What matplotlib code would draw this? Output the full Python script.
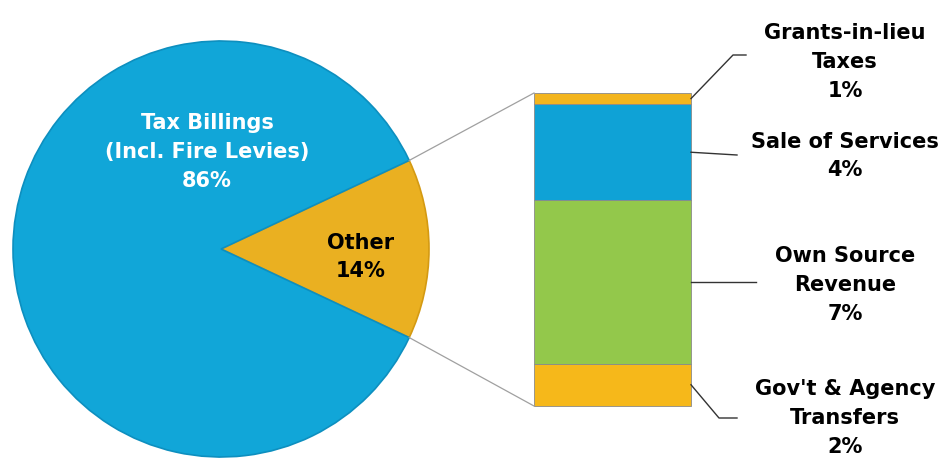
import matplotlib
matplotlib.use("Agg")
import matplotlib.pyplot as plt
import numpy as np

# main pie: share of total revenue (%)
pie_labels = ["Other\n14%", "Tax Billings\n(Incl. Fire Levies)\n86%"]
pie_values = [14, 86]
pie_colors = ["#EAB021", "#11A6D8"]

# breakdown of "Other", stacked from the bottom up (%)
other_names = ["Gov't & Agency\nTransfers", "Own Source\nRevenue", "Sale of Services", "Grants-in-lieu\nTaxes"]
other_values = [1.9, 7.3, 4.3, 0.5]
other_pcts = ["2%", "7%", "4%", "1%"]
other_colors = ["#F6B81A", "#93C84B", "#0FA2D6", "#F3B51E"]

W, H = 943, 459
fig = plt.figure(figsize=(W / 100, H / 100), dpi=100)
ax = fig.add_axes([0, 0, 1, 1])

FS = 15
LS = 1.55

# pie, drawn in pixel-like data units (y up)
cx, cy, r = 221, H - 249, 208
half = pie_values[0] / 100 * 360 / 2
wedges, _ = ax.pie(pie_values, colors=pie_colors, startangle=-half, center=(cx, cy),
                   radius=r, wedgeprops=dict(edgecolor="#0D8FBF", linewidth=1.2))
wedges[0].set_edgecolor("#D49A12")

ax.text(207, H - 152, pie_labels[1], ha="center", va="center", color="white",
        fontsize=FS, fontweight="bold", linespacing=LS)
ax.text(361, H - 257, pie_labels[0], ha="center", va="center", color="black",
        fontsize=FS, fontweight="bold", linespacing=LS)

# stacked bar for the "Other" slice
bar_x, bar_w, bar_bottom = 612.5, 157, H - 406
unit = 313 / sum(other_values)
bottom = bar_bottom
mids = []
for val, col in zip(other_values, other_colors):
    h = val * unit
    ax.bar(bar_x, h, width=bar_w, bottom=bottom, color=col, edgecolor="#8a8a8a", linewidth=0.6)
    mids.append(bottom + h / 2)
    bottom += h
bar_top = bottom
left = bar_x - bar_w / 2
right = bar_x + bar_w / 2

# connector lines from the slice to the bar
a = np.deg2rad(half)
ax.plot([cx + r * np.cos(a), left], [cy + r * np.sin(a), bar_top], color="#A0A0A0", lw=0.9)
ax.plot([cx + r * np.cos(a), left], [cy - r * np.sin(a), bar_bottom], color="#A0A0A0", lw=0.9)

# labels and leader lines
label_x = 845
label_y = [H - 418, H - 285, H - 156, H - 62]
leaders = [
    ([right, 719, 737], [mids[0], H - 418, H - 418]),
    ([right, 756], [mids[1], mids[1]]),
    ([right, 737], [mids[2], H - 155]),
    ([right, 733, 746], [mids[3], H - 55, H - 55]),
]
for name, pct, ly, (lx, lyy) in zip(other_names, other_pcts, label_y, leaders):
    ax.plot(lx, lyy, color="#333333", lw=1)
    ax.text(label_x, ly, name + "\n" + pct, ha="center", va="center", fontsize=FS,
            fontweight="bold", linespacing=LS)

ax.set_xlim(0, W)
ax.set_ylim(0, H)
ax.set_aspect("equal")
ax.axis("off")
fig.savefig("out.png", dpi=100)
